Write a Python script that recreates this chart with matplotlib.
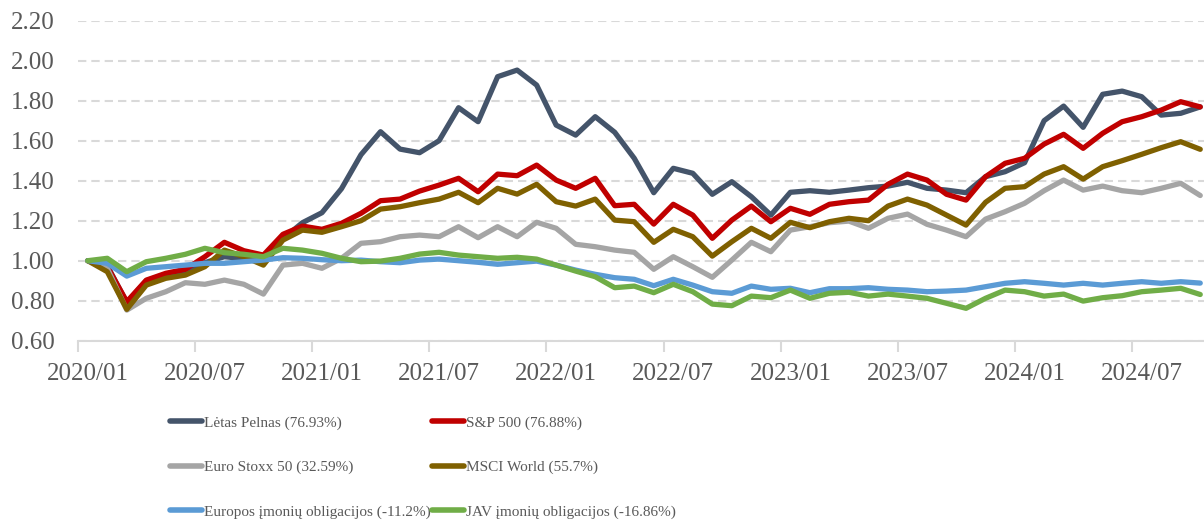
import numpy as np
import pandas as pd
import matplotlib
matplotlib.use("Agg")
import matplotlib.pyplot as plt
from matplotlib.ticker import FixedLocator, FixedFormatter

# monthly values, index 1.00 = 2020/01
months = [p.strftime("%Y/%m") for p in pd.period_range("2020-01", "2024-10", freq="M")]

letas_pelnas = [1.00, 0.975, 0.79, 0.90, 0.93, 0.95, 0.99, 1.02, 1.01, 1.00,
                1.11, 1.19, 1.24, 1.36, 1.53, 1.645, 1.558, 1.54, 1.60, 1.765,
                1.695, 1.92, 1.953, 1.878, 1.678, 1.628, 1.72, 1.642, 1.512, 1.34,
                1.462, 1.437, 1.332, 1.395, 1.32, 1.228, 1.342, 1.35, 1.342, 1.353,
                1.365, 1.373, 1.392, 1.362, 1.353, 1.34, 1.42, 1.445, 1.49, 1.70,
                1.773, 1.667, 1.832, 1.848, 1.82, 1.728, 1.737, 1.769]
sp500 = [1.00, 0.97, 0.795, 0.903, 0.937, 0.957, 1.02, 1.092, 1.05, 1.028,
         1.132, 1.173, 1.157, 1.187, 1.237, 1.30, 1.308, 1.348, 1.378, 1.412,
         1.345, 1.433, 1.425, 1.478, 1.403, 1.362, 1.412, 1.275, 1.282, 1.183,
         1.282, 1.228, 1.112, 1.203, 1.273, 1.195, 1.262, 1.232, 1.282, 1.295,
         1.303, 1.382, 1.433, 1.403, 1.332, 1.303, 1.42, 1.487, 1.512, 1.583,
         1.632, 1.562, 1.637, 1.695, 1.72, 1.753, 1.795, 1.769]
euro_stoxx = [1.00, 0.962, 0.753, 0.812, 0.845, 0.89, 0.882, 0.903, 0.882, 0.833,
              0.978, 0.987, 0.962, 1.012, 1.087, 1.095, 1.12, 1.128, 1.12, 1.17,
              1.115, 1.17, 1.12, 1.192, 1.162, 1.082, 1.07, 1.053, 1.042, 0.957,
              1.02, 0.97, 0.917, 1.003, 1.092, 1.045, 1.153, 1.17, 1.19, 1.198,
              1.162, 1.212, 1.233, 1.182, 1.153, 1.12, 1.208, 1.245, 1.287, 1.35,
              1.403, 1.353, 1.373, 1.35, 1.34, 1.362, 1.387, 1.326]
msci_world = [1.00, 0.945, 0.757, 0.878, 0.912, 0.928, 0.97, 1.053, 1.02, 0.978,
              1.103, 1.153, 1.142, 1.17, 1.20, 1.258, 1.27, 1.29, 1.308, 1.342,
              1.29, 1.362, 1.333, 1.382, 1.295, 1.273, 1.308, 1.203, 1.195, 1.092,
              1.157, 1.12, 1.023, 1.095, 1.162, 1.112, 1.192, 1.165, 1.195, 1.212,
              1.20, 1.273, 1.308, 1.278, 1.228, 1.178, 1.292, 1.362, 1.37, 1.433,
              1.47, 1.408, 1.47, 1.50, 1.532, 1.565, 1.595, 1.557]
eu_bonds = [1.00, 0.987, 0.923, 0.962, 0.97, 0.978, 0.987, 0.987, 0.995, 1.003,
            1.015, 1.012, 1.005, 1.0, 1.003, 0.995, 0.99, 1.003, 1.008, 1.0,
            0.992, 0.982, 0.99, 0.998, 0.978, 0.953, 0.932, 0.915, 0.907, 0.875,
            0.907, 0.878, 0.845, 0.837, 0.873, 0.857, 0.862, 0.84, 0.86, 0.86,
            0.865, 0.857, 0.853, 0.845, 0.848, 0.853, 0.87, 0.887, 0.895, 0.887,
            0.878, 0.887, 0.878, 0.887, 0.895, 0.887, 0.895, 0.888]
us_bonds = [1.00, 1.012, 0.945, 0.995, 1.012, 1.032, 1.062, 1.04, 1.032, 1.02,
            1.062, 1.053, 1.037, 1.012, 0.995, 0.998, 1.012, 1.033, 1.042, 1.028,
            1.02, 1.012, 1.017, 1.008, 0.978, 0.948, 0.92, 0.865, 0.873, 0.84,
            0.882, 0.845, 0.783, 0.775, 0.823, 0.815, 0.853, 0.812, 0.837, 0.842,
            0.823, 0.833, 0.823, 0.812, 0.787, 0.762, 0.812, 0.853, 0.845, 0.823,
            0.833, 0.798, 0.815, 0.825, 0.845, 0.853, 0.862, 0.831]

series = [
    ("Lėtas Pelnas (76.93%)", letas_pelnas, "#44546A"),
    ("S&P 500 (76.88%)", sp500, "#C00000"),
    ("Euro Stoxx 50 (32.59%)", euro_stoxx, "#A5A5A5"),
    ("MSCI World (55.7%)", msci_world, "#7F6000"),
    ("Europos įmonių obligacijos (-11.2%)", eu_bonds, "#5B9BD5"),
    ("JAV įmonių obligacijos (-16.86%)", us_bonds, "#70AD47"),
]

plt.rcParams["font.family"] = ["Liberation Serif", "DejaVu Serif"]

fig = plt.figure(figsize=(12.04, 5.25), dpi=100)
# plot area runs past the right edge, like the cropped original
ax = fig.add_axes([78 / 1204, 1 - 340.7 / 525, 1132 / 1204, 320 / 525])

x = np.arange(len(months))
lines = []
for label, vals, col in series:
    ln, = ax.plot(x, vals, color=col, lw=3.8, label=label,
                  solid_joinstyle="round", solid_capstyle="round")
    lines.append(ln)

ax.set_xlim(-0.5, len(months) - 0.5)
ax.set_ylim(0.6, 2.2)
yt = np.arange(0.6, 2.21, 0.2)
ax.set_yticks(yt)
ax.set_yticklabels([f"{v:.2f}" for v in yt])

lab_pos = list(range(0, len(months), 6))
ax.xaxis.set_major_locator(FixedLocator(lab_pos))
ax.xaxis.set_major_formatter(FixedFormatter([months[i] for i in lab_pos]))
ax.xaxis.set_minor_locator(FixedLocator([i - 0.5 for i in lab_pos] + [len(months) - 0.5]))
ax.tick_params(axis="x", which="major", length=0, pad=16, labelsize=18, labelcolor="#595959")
ax.tick_params(axis="x", which="minor", length=8, width=1.5, color="#d9d9d9")
ax.tick_params(axis="y", length=0, pad=17, labelsize=18, labelcolor="#595959")

ax.grid(axis="y", color="#d9d9d9", lw=1.5, dashes=(4, 2.4))
ax.set_axisbelow(True)
for s in ["top", "right", "left"]:
    ax.spines[s].set_visible(False)
ax.spines["bottom"].set_color("#d9d9d9")
ax.spines["bottom"].set_linewidth(1.5)
ax.spines["bottom"].set_zorder(0.5)

# legend is filled by rows in the original, matplotlib fills by columns
order = [0, 2, 4, 1, 3, 5]
leg = fig.legend([lines[i] for i in order], [series[i][0] for i in order],
                 loc="upper left", bbox_to_anchor=(170 / 1204, 1 - 416 / 525),
                 ncol=2, frameon=False, fontsize=11, handlelength=2.1,
                 handletextpad=0.12, columnspacing=0.1, labelspacing=2.0,
                 borderpad=0, borderaxespad=0)
for t in leg.get_texts():
    t.set_color("#595959")
for h in leg.get_lines():
    h.set_linewidth(4)
    h.set_solid_capstyle("round")

fig.savefig("out.png", dpi=100)
